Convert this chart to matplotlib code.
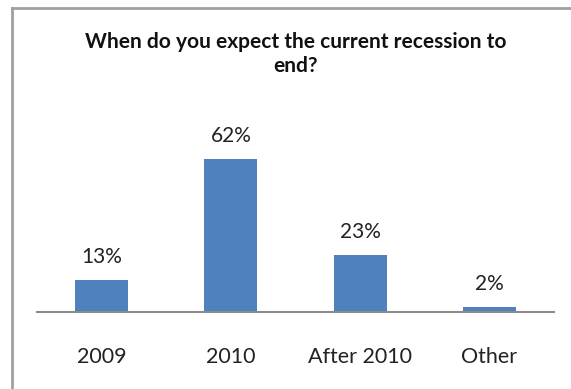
import matplotlib.pyplot as plt
from matplotlib.lines import Line2D

categories = ["2009", "2010", "After 2010", "Other"]
values = [13, 62, 23, 2]
labels = ["13%", "62%", "23%", "2%"]

plt.rcParams['font.family'] = ['Lato', 'DejaVu Sans']

fig = plt.figure(figsize=(5.71, 3.89), dpi=100)
# axis line from x=37 to 554 px, baseline at y=312 px
ax = fig.add_axes([37/571, 1 - 312/389, 517/571, 173/389])

x = range(len(categories))
ax.bar(x, values, width=0.41, color="#4F81BD")
for xi, v, lab in zip(x, values, labels):
    ax.annotate(lab, (xi, v), xytext=(0, 16.5), textcoords="offset points",
                ha="center", va="center", fontsize=15, color="#222222", annotation_clip=False)

ax.set_xlim(-0.5, 3.5)
ax.set_ylim(0, 70)
ax.set_xticks(list(x))
ax.set_xticklabels(categories, fontsize=15.5, color="#222222")
ax.tick_params(axis="x", length=0, pad=25)
ax.set_yticks([])
for s in ["top", "right", "left"]:
    ax.spines[s].set_visible(False)
ax.spines["bottom"].set_color("#8c8c8c")
ax.spines["bottom"].set_linewidth(1.5)

fig.text(296/571, 1 - 42/389, "When do you expect the current recession to", ha="center", va="center",
         fontsize=15, fontweight="bold", color="#111111")
fig.text(296/571, 1 - 66/389, "end?", ha="center", va="center",
         fontsize=15, fontweight="bold", color="#111111")

# chart border (left and top visible)
fig.add_artist(Line2D([12/571, 12/571], [0, 1 - 8/389], color="#a0a0a0", lw=2))
fig.add_artist(Line2D([12/571, 1], [1 - 8/389, 1 - 8/389], color="#a0a0a0", lw=2))

fig.savefig("out.png", dpi=100)
